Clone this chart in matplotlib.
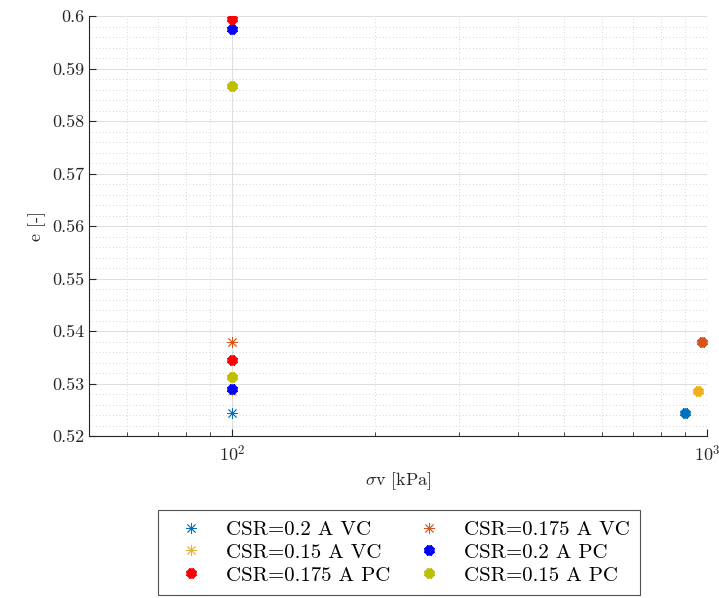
import math
import matplotlib
matplotlib.use("Agg")
import matplotlib.pyplot as plt
from matplotlib.ticker import LogLocator, FixedLocator, FuncFormatter, NullFormatter, MultipleLocator

plt.rcParams["font.family"] = "serif"
plt.rcParams["font.serif"] = ["cmr10"]
plt.rcParams["mathtext.fontset"] = "cm"
plt.rcParams["axes.formatter.use_mathtext"] = True

# Vertical stress [kPa] and void ratio [-]
# Volume-controlled tests (start point + end of consolidation)
vc_labels = ["CSR=0.2 A VC", "CSR=0.175 A VC", "CSR=0.15 A VC"]
vc_colors = ["#0072BD", "#D95319", "#EDB120"]
vc_sigma_start = [100, 100, 100]
vc_e_start = [0.5243, 0.5380, 0.5285]
vc_sigma_end = [898, 975, 959]
vc_e_end = [0.5243, 0.5380, 0.5286]

# Pressure-controlled tests
pc_labels = ["CSR=0.2 A PC", "CSR=0.175 A PC", "CSR=0.15 A PC"]
pc_colors = ["#0000FF", "#FF0000", "#BFBF00"]
pc_sigma = [[100, 100], [100, 100], [100, 100]]
pc_e = [[0.5290, 0.5975], [0.5345, 0.5994], [0.5312, 0.5866]]

ASTERISK = (8, 2, 0)

fig = plt.figure(figsize=(7.19, 5.98), dpi=100)
ax = fig.add_axes([0.1238, 0.2709, 0.8595, 0.7023])

handles = {}
for lab, c, xs, ys, xe, ye in zip(vc_labels, vc_colors, vc_sigma_start, vc_e_start,
                                  vc_sigma_end, vc_e_end):
    h, = ax.plot([xs], [ys], linestyle="none", marker=ASTERISK, markersize=8,
                 markeredgewidth=0.6, color=c, label=lab, zorder=3)
    ax.plot([xe], [ye], linestyle="none", marker=ASTERISK, markersize=7,
            markeredgewidth=3.2, color=c, zorder=3, clip_on=False)
    handles[lab] = h

for lab, c, xs, ys in zip(pc_labels, pc_colors, pc_sigma, pc_e):
    h, = ax.plot(xs, ys, linestyle="none", marker=ASTERISK, markersize=7,
                 markeredgewidth=3.2, color=c, label=lab, zorder=3)
    handles[lab] = h

ax.set_xscale("log")
ax.set_xlim(50, 1000)
ax.set_ylim(0.52, 0.6)

ax.xaxis.set_major_locator(FixedLocator([100, 1000]))
ax.xaxis.set_minor_locator(LogLocator(base=10, subs=range(2, 10), numticks=20))
ax.xaxis.set_minor_formatter(NullFormatter())
ax.xaxis.set_major_formatter(FuncFormatter(lambda v, p: r"$10^{%d}$" % round(math.log10(v))))

ax.yaxis.set_major_locator(MultipleLocator(0.01))
ax.yaxis.set_minor_locator(MultipleLocator(0.002))
ax.yaxis.set_major_formatter(FuncFormatter(lambda v, p: "%g" % round(v, 3)))

ax.grid(True, which="major", color="#dedede", linewidth=0.8, linestyle="-")
ax.grid(True, which="minor", color="#c8c8c8", linewidth=0.6, linestyle=(0, (1, 3)))
ax.set_axisbelow(True)

for s in ["top", "right"]:
    ax.spines[s].set_visible(False)
for s in ["left", "bottom"]:
    ax.spines[s].set_color("#262626")
    ax.spines[s].set_linewidth(0.8)

ax.tick_params(axis="both", which="major", direction="in", length=5, width=0.8,
               colors="#262626", labelsize=13)
ax.tick_params(axis="x", which="minor", direction="in", length=3, width=0.6, colors="#262626")
ax.tick_params(axis="y", which="minor", length=0)
ax.tick_params(axis="x", which="major", pad=6)

ax.set_xlabel(r"$\sigma$v [kPa]", fontsize=13, color="#262626", labelpad=4)
ax.set_ylabel("e [-]", fontsize=13, color="#262626", labelpad=4)

order = ["CSR=0.2 A VC", "CSR=0.15 A VC", "CSR=0.175 A PC",
         "CSR=0.175 A VC", "CSR=0.2 A PC", "CSR=0.15 A PC"]
leg = fig.legend([handles[k] for k in order], order, ncol=2,
                 loc="center", bbox_to_anchor=(0.555, 0.0761),
                 fontsize=15, frameon=True, fancybox=False, edgecolor="#262626",
                 handlelength=2.2, handletextpad=0.58, columnspacing=0.72,
                 labelspacing=0.2, borderpad=0.5)
leg.get_frame().set_linewidth(0.8)

fig.savefig("out.png", dpi=100)
